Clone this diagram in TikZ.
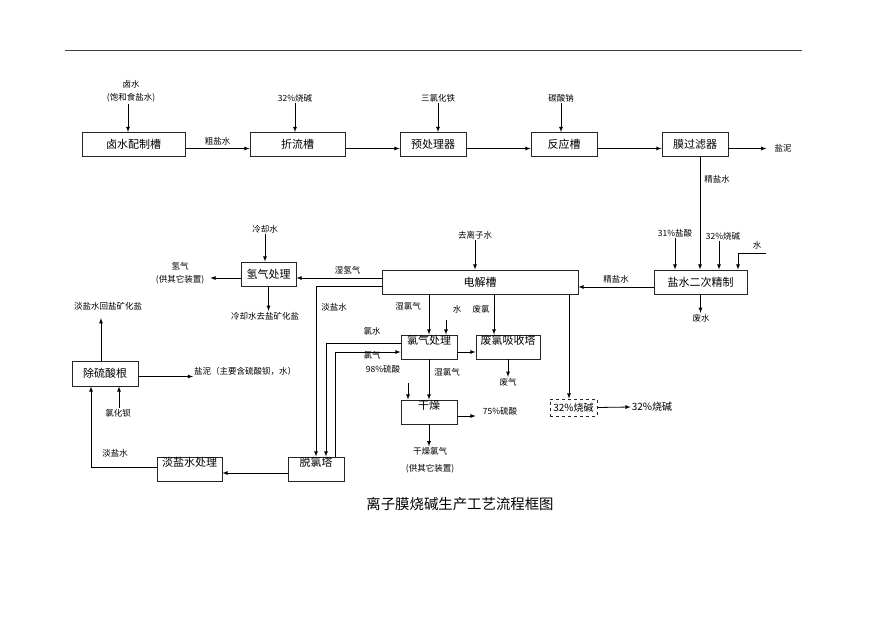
\documentclass[tikz,border=0pt]{standalone}
\usepackage{fontspec}
\setmainfont{Noto Sans CJK SC}
\usetikzlibrary{arrows,positioning,calc}

\tikzset{
  box/.style={draw=black!85, line width=0.9pt, minimum height=24pt, inner sep=1pt, font=\fontsize{11}{13}\selectfont},
  hibox/.style={box, text height=7pt, text depth=13pt},
  lbl/.style={font=\fontsize{8.5}{13}\selectfont, inner sep=1pt},
  arr/.style={->, >=latex, line width=0.8pt},
}

\begin{document}
\begin{tikzpicture}[x=1pt, y=-1pt]
    \useasboundingbox (0,0) rectangle (878,621);
    % top rule
    \draw[black!75, line width=0.8pt] (65,50) -- (802,50);

    % first row of boxes
    \node[box, minimum width=103pt] (lspz) at (133.5,144.5) {卤水配制槽};
    \node[box, minimum width=95pt] (zlc) at (297.5,144.5) {折流槽};
    \node[box, minimum width=66pt] (ycl) at (433,144.5) {预处理器};
    \node[box, minimum width=66pt] (fyc) at (564,144.5) {反应槽};
    \node[box, minimum width=66pt] (mglq) at (695,144.5) {膜过滤器};

    % feeds from above
    \node[lbl, align=center] (ls) at (131,91.5) {卤水\\(饱和食盐水)};
    \node[lbl] (sj1) at (295,98) {32\%烧碱};
    \node[lbl] (slht) at (438,98) {三氯化铁};
    \node[lbl] (tsn) at (561,98) {碳酸钠};
    \draw[arr] ([xshift=-3pt]ls.south) -- ([xshift=-3pt]ls.south |- lspz.north);
    \draw[arr] (sj1.south) -- (sj1.south |- zlc.north);
    \draw[arr] (slht.south) -- (slht.south |- ycl.north);
    \draw[arr] (tsn.south) -- (tsn.south |- fyc.north);

    % along the first row
    \draw[arr] ([yshift=-4pt]lspz.east) -- ([yshift=-4pt]zlc.west) node[lbl, midway, above=2pt] {粗盐水};
    \draw[arr] ([yshift=-4pt]zlc.east) -- ([yshift=-4pt]ycl.west);
    \draw[arr] ([yshift=-4pt]ycl.east) -- ([yshift=-4pt]fyc.west);
    \draw[arr] ([yshift=-4pt]fyc.east) -- ([yshift=-4pt]mglq.west);
    \node[lbl] (yn) at (783,148) {盐泥};
    \draw[arr, shorten >=7pt] ([yshift=-4pt]mglq.east) -- ([yshift=-4pt]mglq.east -| yn.west);

    % secondary brine purification
    \node[box, minimum width=93pt] (ecjz) at (700.5,282) {盐水二次精制};
    \draw[arr] ([xshift=5pt]mglq.south) -- ([xshift=5pt]mglq.south |- ecjz.north) node[lbl, pos=0.2, right=3pt] {精盐水};
    \node[lbl] (ys) at (675,233) {31\%盐酸};
    \node[lbl] (sj2) at (723,236) {32\%烧碱};
    \node[lbl] (s1) at (757,245) {水};
    \coordinate (s1in) at (766,253);
    \draw[arr] (ys.south) -- (ys.south |- ecjz.north);
    \draw[arr] ([xshift=-4pt]sj2.south) -- ([xshift=-4pt]sj2.south |- ecjz.north);
    \draw[arr] (s1in) -| ([xshift=37.5pt]ecjz.north);
    \node[lbl] (fs) at (701,318) {废水};
    \draw[arr] (ecjz.south) -- (ecjz.south |- fs.north);

    % electrolyser
    \node[box, minimum width=196pt] (djc) at (480,282) {电解槽};
    \draw[arr] ([yshift=-5pt]ecjz.west) -- ([yshift=-5pt]ecjz.west -| djc.east) node[lbl, midway, above=2pt] {精盐水};
    \node[lbl] (qlzs) at (475,235) {去离子水};
    \draw[arr] (qlzs.south) -- (qlzs.south |- djc.north);

    % hydrogen
    \node[box, minimum width=55pt] (qqcl) at (268.5,274) {氢气处理};
    \draw[arr] ([yshift=4pt]djc.west) -- ([yshift=4pt]djc.west -| qqcl.east) node[lbl, pos=0.4, above=2pt] {湿氢气};
    \node[lbl] (lqs) at (265,229) {冷却水};
    \draw[arr] (lqs.south) -- (lqs.south |- qqcl.north);
    \node[lbl, align=center] (qq) at (180,273) {氢气\\(供其它装置)};
    \draw[arr, shorten >=5pt] ([yshift=-4pt]qqcl.west) -- ([yshift=-4pt]qqcl.west -| qq.east);
    \node[lbl] (lqq) at (265,316) {冷却水去盐矿化盐};
    \draw[arr] (qqcl.south) -- (qqcl.south |- lqq.north);

    % chlorine side
    \node[hibox, minimum width=56pt] (lqcl) at (429,347) {氯气处理};
    \node[hibox, minimum width=64pt] (fljx) at (508,347) {废氯吸收塔};
    \node[hibox, minimum width=56pt] (gz) at (429,412) {干燥};
    \node[draw=black!85, dashed, line width=0.8pt, minimum width=47pt, minimum height=17pt, inner sep=1pt, font=\fontsize{10}{12}\selectfont] (sj) at (573.5,407.5) {32\%烧碱};
    \node[hibox, minimum width=56pt] (tlt) at (316,469) {脱氯塔};
    \node[hibox, minimum width=65pt] (dyscl) at (189.5,469) {淡盐水处理};
    \node[box, minimum width=66pt, minimum height=25pt] (cslg) at (105,373.5) {除硫酸根};

    % from the electrolyser downwards
    \draw[arr] ([yshift=-4pt]djc.west) -| (tlt.north);
    \node[lbl] (dys1) at (334,307) {淡盐水};
    \draw[arr] (lqcl.north |- djc.south) -- (lqcl.north);
    \node[lbl] (slq1) at (408,306) {湿氯气};
    \node[lbl] (s2) at (457,309) {水};
    \coordinate (s2in) at (446,320);
    \draw[arr] (s2in) -- (s2in |- lqcl.north);
    \node[lbl] (fl) at (481,309) {废氯};
    \draw[arr] ([xshift=14pt]djc.south) -- ([xshift=14pt]djc.south |- fljx.north);
    \draw[arr] ([xshift=89pt]djc.south) -- ([xshift=89pt]djc.south |- sj.north);

    \draw[arr] ([yshift=-5pt]lqcl.east) -- ([yshift=-5pt]lqcl.east -| fljx.west);
    \node[lbl] (fq) at (508,382) {废气};
    \draw[arr] (fljx.south) -- (fq.north);

    % chlorine water and chlorine loop
    \draw[arr] ([yshift=4pt]lqcl.west) -| ([xshift=10pt]tlt.north);
    \node[lbl] (ls2) at (372,331) {氯水};
    \draw[arr] ([xshift=19pt]tlt.north) |- ([yshift=-5pt]lqcl.west);
    \node[lbl] (lq) at (372,355) {氯气};

    % drying
    \draw[arr] (lqcl.south) -- (gz.north);
    \node[lbl] (slq2) at (447,372) {湿氯气};
    \node[lbl] (ls98) at (383,369) {98\%硫酸};
    \coordinate (ls98in) at (408,383);
    \draw[arr] (ls98in) -- (ls98in |- gz.north);
    \node[lbl] (ls75) at (500,411) {75\%硫酸};
    \draw[arr, shorten >=6pt] ([yshift=-4pt]gz.east) -- ([yshift=-4pt]gz.east -| ls75.west);
    \node[lbl, align=center] (gzlq) at (430,460.5) {干燥氯气\\[4pt](供其它装置)};
    \draw[arr] (gz.south) -- (gz.south |- gzlq.north);

    % caustic out
    \node[font=\fontsize{10}{12}\selectfont, inner sep=1pt] (sjout) at (652,407) {32\%烧碱};
    \draw[arr] (sj.east) -- (sjout.west);

    % depleted brine
    \draw[arr] ([yshift=-4pt]tlt.west) -- ([yshift=-4pt]tlt.west -| dyscl.east);
    \draw[arr] ([yshift=2pt]dyscl.west) -| ([xshift=-14pt]cslg.south);
    \node[lbl] (dys2) at (115,453) {淡盐水};
    \node[lbl] (lhb) at (118,413) {氯化钡};
    \draw[arr] ([xshift=1pt]lhb.north) -- ([xshift=1pt]lhb.north |- cslg.south);
    \node[lbl, anchor=west] (ynz) at (193,371) {盐泥（主要含硫酸钡，水）};
    \draw[arr] ([yshift=-3pt]cslg.east) -- ([yshift=-3pt]cslg.east -| ynz.west);
    \node[lbl] (hyk) at (108,306) {淡盐水回盐矿化盐};
    \draw[arr, shorten >=7pt] ([xshift=-4pt]cslg.north) -- ([xshift=-4pt]cslg.north |- hyk.south);

    % title
    \node[font=\fontsize{14.4}{16}\selectfont] (title) at (460,504) {离子膜烧碱生产工艺流程框图};
\end{tikzpicture}
\end{document}
